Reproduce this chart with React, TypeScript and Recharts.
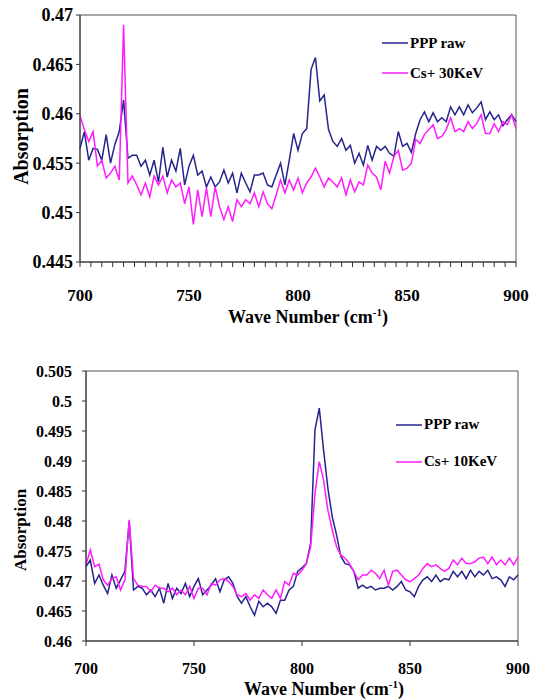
import React from "react";
import {
  LineChart,
  Line,
  XAxis,
  YAxis,
  Label,
  Legend,
  ReferenceArea,
} from "recharts";

const FONT = '"Liberation Serif", "Times New Roman", serif';
const BLUE = "#25258c";
const MAGENTA = "#ff1cff";

// wave numbers (cm-1), sampled every 2
const waveNumbers = [
  700, 702, 704, 706, 708, 710, 712, 714, 716, 718, 720, 722, 724, 726, 728, 730, 732, 734, 736, 738,
  740, 742, 744, 746, 748, 750, 752, 754, 756, 758, 760, 762, 764, 766, 768, 770, 772, 774, 776, 778,
  780, 782, 784, 786, 788, 790, 792, 794, 796, 798, 800, 802, 804, 806, 808, 810, 812, 814, 816, 818,
  820, 822, 824, 826, 828, 830, 832, 834, 836, 838, 840, 842, 844, 846, 848, 850, 852, 854, 856, 858,
  860, 862, 864, 866, 868, 870, 872, 874, 876, 878, 880, 882, 884, 886, 888, 890, 892, 894, 896, 898,
  900,
];

// top panel: PPP raw vs Cs+ 30KeV
const topRaw = [
  0.4565, 0.4582, 0.4553, 0.4565, 0.4564, 0.4553, 0.4579, 0.455, 0.4569, 0.4582, 0.4614, 0.4555, 0.4558, 0.4558, 0.4547, 0.4553, 0.4538, 0.4553, 0.4531, 0.4566,
  0.4536, 0.4553, 0.4542, 0.4565, 0.4528, 0.4547, 0.4558, 0.4538, 0.4542, 0.4526, 0.4536, 0.4526, 0.4531, 0.4543, 0.453, 0.454, 0.452, 0.454, 0.453, 0.4521,
  0.4538, 0.4538, 0.454, 0.4528, 0.4526, 0.4538, 0.455, 0.4528, 0.4553, 0.458, 0.4563, 0.458, 0.4585, 0.4645, 0.4657, 0.4613, 0.4619, 0.4584, 0.4572, 0.4567,
  0.4575, 0.4563, 0.4568, 0.455, 0.456, 0.4548, 0.4568, 0.4553, 0.4567, 0.4563, 0.4567, 0.456, 0.4557, 0.4582, 0.4567, 0.457, 0.4561, 0.458, 0.4594, 0.4602,
  0.4592, 0.4601, 0.4592, 0.4596, 0.4592, 0.4607, 0.4599, 0.4607, 0.4599, 0.4609, 0.4601, 0.4606, 0.4612, 0.4594, 0.4602, 0.4594, 0.4599, 0.4588, 0.4594, 0.4599,
  0.4592,
];
const topCs30 = [
  0.4598, 0.4584, 0.4572, 0.4582, 0.4547, 0.4553, 0.4535, 0.454, 0.4547, 0.4533, 0.469, 0.453, 0.4537, 0.4528, 0.4518, 0.453, 0.4516, 0.4537, 0.4528, 0.4537,
  0.452, 0.4533, 0.4526, 0.453, 0.4509, 0.4526, 0.4488, 0.4523, 0.4496, 0.4525, 0.4496, 0.4526, 0.4506, 0.4493, 0.4506, 0.4491, 0.4513, 0.4506, 0.4513, 0.4509,
  0.452, 0.4506, 0.4521, 0.4509, 0.4504, 0.4518, 0.4533, 0.452, 0.4533, 0.4523, 0.4535, 0.452, 0.453, 0.4536, 0.4545, 0.4536, 0.4526, 0.4535, 0.4531, 0.4526,
  0.4535, 0.4518, 0.4533, 0.4521, 0.4531, 0.4528, 0.4548, 0.454, 0.4536, 0.4523, 0.4552, 0.454, 0.4557, 0.4563, 0.4543, 0.4545, 0.455, 0.4574, 0.457, 0.4579,
  0.4584, 0.4589, 0.4575, 0.4577, 0.4584, 0.4596, 0.4582, 0.4585, 0.4582, 0.4592, 0.4585, 0.459, 0.4599, 0.458, 0.458, 0.459, 0.4582, 0.4592, 0.4589, 0.4599,
  0.4585,
];

// bottom panel: PPP raw vs Cs+ 10KeV
const bottomRaw = [
  0.4724, 0.4735, 0.4696, 0.471, 0.4693, 0.4679, 0.471, 0.4688, 0.4702, 0.4716, 0.4799, 0.4685, 0.4691, 0.4688, 0.4677, 0.4685, 0.4674, 0.4688, 0.4663, 0.4696,
  0.4671, 0.4688, 0.4679, 0.4696, 0.4674, 0.4691, 0.4704, 0.4677, 0.4685, 0.4693, 0.4704, 0.4682, 0.4702, 0.4707, 0.4696, 0.4674, 0.4663, 0.4674, 0.4657, 0.4643,
  0.4666, 0.4657, 0.4663, 0.4657, 0.4646, 0.4668, 0.4668, 0.4685, 0.4691, 0.4716, 0.4722, 0.4729, 0.4763, 0.4952, 0.4988, 0.4918, 0.4854, 0.4807, 0.4777, 0.4741,
  0.4729, 0.4727, 0.4716, 0.4688, 0.4693, 0.4688, 0.4691, 0.4685, 0.4688, 0.4688, 0.4691, 0.4685, 0.4691, 0.4699, 0.4685, 0.4682, 0.4674, 0.4691, 0.4702, 0.4707,
  0.4699, 0.471, 0.4699, 0.4704, 0.4702, 0.4716, 0.4707, 0.4716, 0.4704, 0.4718, 0.4707, 0.4716, 0.471, 0.4718, 0.4704, 0.4707, 0.4702, 0.4691, 0.4707, 0.4702,
  0.471,
];
const bottomCs10 = [
  0.4727, 0.4752, 0.4724, 0.4728, 0.4702, 0.4693, 0.4704, 0.4707, 0.4685, 0.4702, 0.4802, 0.4704, 0.4693, 0.4691, 0.4691, 0.4682, 0.4693, 0.4688, 0.4688, 0.4682,
  0.4688, 0.4677, 0.4685, 0.4677, 0.4691, 0.4671, 0.4688, 0.4688, 0.4677, 0.4696, 0.4693, 0.4702, 0.4704, 0.4699, 0.4691, 0.4677, 0.4674, 0.4679, 0.4668, 0.4677,
  0.4671, 0.4685, 0.4677, 0.4671, 0.4685, 0.4671, 0.4699, 0.4693, 0.4713, 0.471, 0.4718, 0.4729, 0.4757, 0.4845, 0.4899, 0.4868, 0.4818, 0.4785, 0.4757, 0.4743,
  0.4738, 0.4729, 0.4716, 0.4702, 0.471, 0.471, 0.4718, 0.4713, 0.4704, 0.4718, 0.4693, 0.4716, 0.4718, 0.471, 0.4702, 0.4699, 0.4704, 0.471, 0.4721, 0.4729,
  0.4724, 0.4727, 0.4721, 0.4716, 0.4721, 0.4735, 0.4727, 0.4738, 0.4729, 0.4729, 0.4732, 0.4738, 0.474, 0.4729, 0.474, 0.4727, 0.4735, 0.4727, 0.4738, 0.4727,
  0.474,
];

const topYTicks = [0.445, 0.45, 0.455, 0.46, 0.465, 0.47];
const bottomYTicks = [0.46, 0.465, 0.47, 0.475, 0.48, 0.485, 0.49, 0.495, 0.5, 0.505];
const majorXTicks = [700, 750, 800, 850, 900];
const minorXTicks = Array.from({ length: 41 }, (_, i) => 700 + i * 5);
const legendOrder = ["raw", "cs"];

const topData = waveNumbers.map((w, i) => ({ w, raw: topRaw[i], cs: topCs30[i] }));
const bottomData = waveNumbers.map((w, i) => ({ w, raw: bottomRaw[i], cs: bottomCs10[i] }));

const fmtY = (v: number) => String(+v.toFixed(3));
const fmtX = (v: number) => (v % 50 === 0 ? String(v) : "");

interface PanelProps {
  data: { w: number; raw: number; cs: number }[];
  csName: string;
  top: number;
  height: number;
  margin: { top: number; right: number; left: number; bottom: number };
  yAxisWidth: number;
  xAxisHeight: number;
  yDomain: [number, number];
  yTicks: number[];
  xTicks: number[];
  yTickFont: number;
  xTickFont: number;
  yTickMargin: number;
  xTickMargin: number;
  yTitleFont: number;
  yTitleDx: number;
  yTitleDy: number;
  xTitleDx: number;
  xTitleDy: number;
  legendTop: number;
  legendLeft: number;
  legendRow: number;
}

function Panel(p: PanelProps) {
  const renderYTitle = ({ viewBox }: any) => {
    const cx = viewBox.x + p.yTitleDx;
    const cy = viewBox.y + viewBox.height / 2 + p.yTitleDy;
    return (
      <text
        x={cx}
        y={cy}
        transform={`rotate(-90 ${cx} ${cy})`}
        textAnchor="middle"
        dominantBaseline="central"
        fontFamily={FONT}
        fontWeight="bold"
        fontSize={p.yTitleFont}
        fill="#000"
      >
        Absorption
      </text>
    );
  };

  const renderXTitle = ({ viewBox }: any) => {
    const cx = viewBox.x + viewBox.width / 2 + p.xTitleDx;
    const y = viewBox.y + p.xTitleDy;
    return (
      <text x={cx} y={y} textAnchor="middle" fontFamily={FONT} fontWeight="bold" fontSize={18} fill="#000">
        Wave Number (cm
        <tspan dy={-7} fontSize={11}>
          -1
        </tspan>
        <tspan dy={7}>)</tspan>
      </text>
    );
  };

  const renderLegend = ({ payload }: any) => {
    const items = [...(payload || [])].sort(
      (a: any, b: any) => legendOrder.indexOf(a.dataKey) - legendOrder.indexOf(b.dataKey)
    );
    return (
      <div>
        {items.map((entry: any) => (
          <div
            key={entry.value}
            style={{ display: "flex", alignItems: "center", height: p.legendRow }}
          >
            <svg width={26} height={4}>
              <line x1={0} y1={2} x2={26} y2={2} stroke={entry.color} strokeWidth={1.5} />
            </svg>
            <span
              style={{
                marginLeft: 2,
                fontFamily: FONT,
                fontWeight: "bold",
                fontSize: 15,
                color: "#000",
                whiteSpace: "nowrap",
              }}
            >
              {entry.value}
            </span>
          </div>
        ))}
      </div>
    );
  };

  return (
    <div style={{ position: "absolute", left: 0, top: p.top }}>
      <LineChart width={536} height={p.height} data={p.data} margin={p.margin}>
        <ReferenceArea
          x1={700}
          x2={900}
          y1={p.yDomain[0]}
          y2={p.yDomain[1]}
          fill="none"
          stroke="#555"
          strokeWidth={1}
          ifOverflow="visible"
        />
        <XAxis
          dataKey="w"
          type="number"
          domain={[700, 900]}
          ticks={p.xTicks}
          interval={0}
          tickFormatter={fmtX}
          tickSize={5}
          tickMargin={p.xTickMargin}
          height={p.xAxisHeight}
          stroke="#333"
          tick={{ fontSize: p.xTickFont, fontWeight: "bold", fill: "#000", fontFamily: FONT }}
        >
          <Label content={renderXTitle} />
        </XAxis>
        <YAxis
          type="number"
          domain={p.yDomain}
          ticks={p.yTicks}
          interval={0}
          allowDataOverflow
          tickFormatter={fmtY}
          tickSize={4}
          tickMargin={p.yTickMargin}
          width={p.yAxisWidth}
          stroke="#333"
          tick={{ fontSize: p.yTickFont, fontWeight: "bold", fill: "#000", fontFamily: FONT }}
        >
          <Label content={renderYTitle} />
        </YAxis>
        <Legend
          layout="vertical"
          align="center"
          verticalAlign="middle"
          content={renderLegend}
          wrapperStyle={{ top: p.legendTop, left: p.legendLeft, width: "auto" }}
        />
        <Line
          type="linear"
          dataKey="raw"
          name="PPP raw"
          stroke={BLUE}
          strokeWidth={1.5}
          dot={false}
          isAnimationActive={false}
        />
        <Line
          type="linear"
          dataKey="cs"
          name={p.csName}
          stroke={MAGENTA}
          strokeWidth={1.5}
          dot={false}
          isAnimationActive={false}
        />
      </LineChart>
    </div>
  );
}

export default function App() {
  return (
    <div
      style={{
        position: "fixed",
        left: 0,
        top: 0,
        width: 536,
        height: 700,
        background: "#fff",
        overflow: "hidden",
      }}
    >
      <Panel
        data={topData}
        csName="Cs+ 30KeV"
        top={0}
        height={340}
        margin={{ top: 15, right: 20, left: 0, bottom: 0 }}
        yAxisWidth={80}
        xAxisHeight={78}
        yDomain={[0.445, 0.47]}
        yTicks={topYTicks}
        xTicks={minorXTicks}
        yTickFont={18}
        xTickFont={17}
        yTickMargin={3}
        xTickMargin={22}
        yTitleFont={20}
        yTitleDx={21}
        yTitleDy={-2}
        xTitleDx={10}
        xTitleDy={61}
        legendTop={28}
        legendLeft={382}
        legendRow={30}
      />
      <Panel
        data={bottomData}
        csName="Cs+ 10KeV"
        top={350}
        height={350}
        margin={{ top: 21, right: 18, left: 0, bottom: 0 }}
        yAxisWidth={86}
        xAxisHeight={59}
        yDomain={[0.46, 0.505]}
        yTicks={bottomYTicks}
        xTicks={majorXTicks}
        yTickFont={16}
        xTickFont={16}
        yTickMargin={10}
        xTickMargin={17}
        yTitleFont={17}
        yTitleDx={20}
        yTitleDy={24}
        xTitleDx={22}
        xTitleDy={54}
        legendTop={56}
        legendLeft={396}
        legendRow={37}
      />
    </div>
  );
}
